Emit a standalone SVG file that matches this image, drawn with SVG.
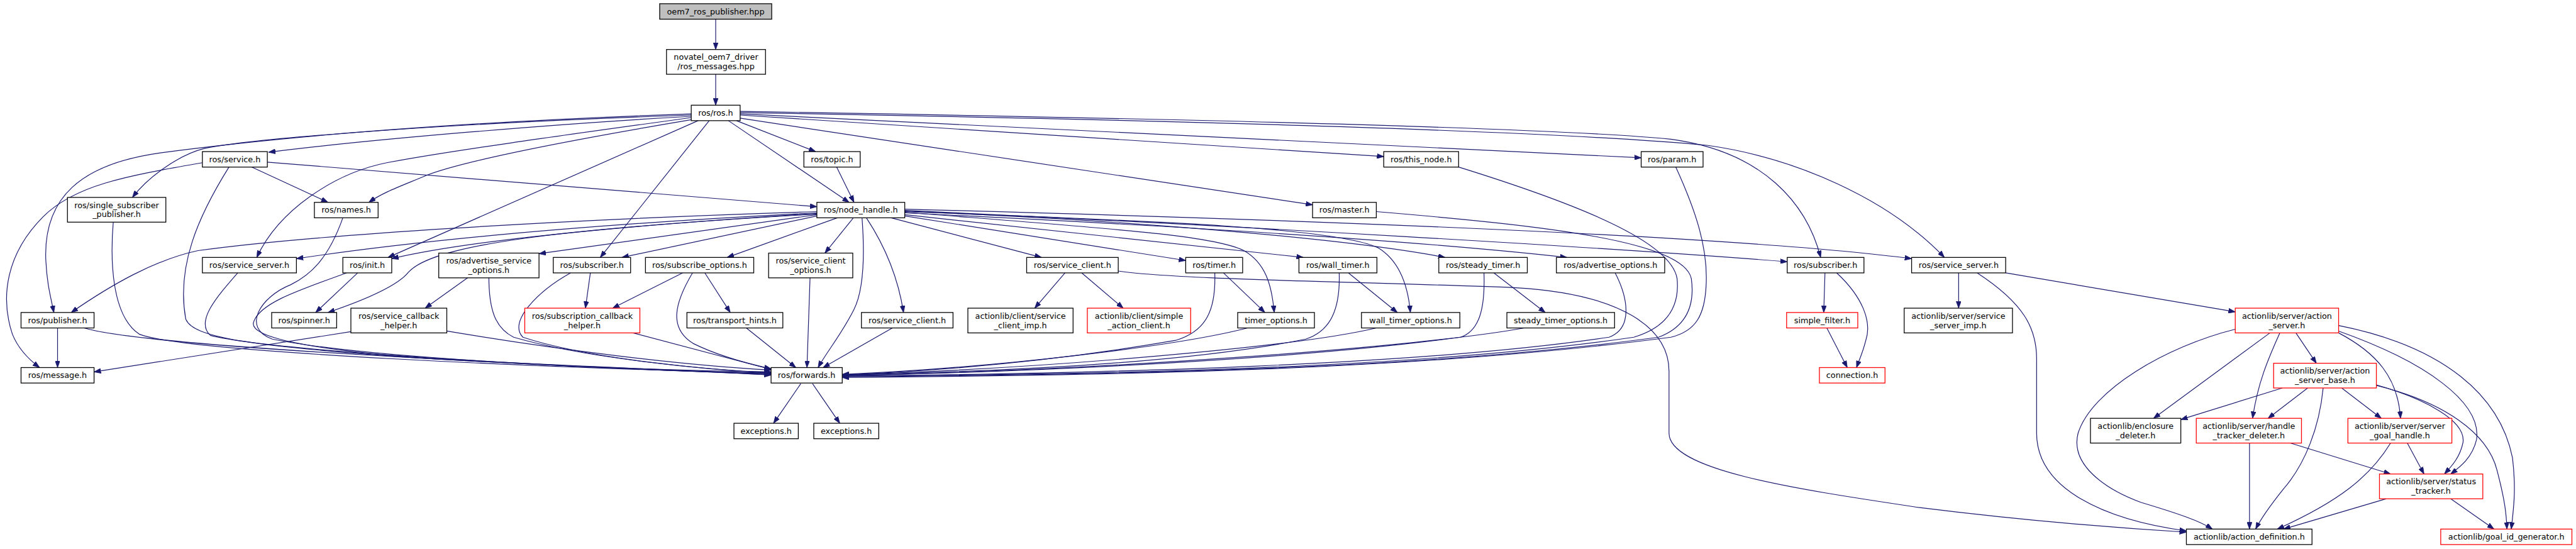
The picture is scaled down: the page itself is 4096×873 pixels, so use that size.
<svg xmlns="http://www.w3.org/2000/svg" width="4096" height="873" viewBox="0 0 4096 873">
<style>
.e{fill:none;stroke:#191970;stroke-width:1.2;marker-end:url(#ah)}
.n rect{fill:#fff;stroke:#000;stroke-width:1.3}
.n.r rect{stroke:#ff0000}
.n.g rect{fill:#bfbfbf}
.n text{font-family:"DejaVu Sans",sans-serif;font-size:13px;fill:#000;text-anchor:middle}
</style>
<defs>
<marker id="ah" viewBox="0 0 11 8" refX="11" refY="4" markerWidth="11" markerHeight="8" orient="auto" markerUnits="userSpaceOnUse">
<path d="M0,0 L11,4 L0,8 z" fill="#191970" stroke="#191970" stroke-width="0.8"/>
</marker>
</defs>
<rect width="4096" height="873" fill="#fff"/>
<g transform="scale(0.984)">
<g id="edges">
<path class="e" d="M1156.5,31 L1156.5,80"/>
<path class="e" d="M1156.5,120 L1156.5,170"/>
<path class="e" d="M1117,188 C900,200 600,225 434,246"/>
<path class="e" d="M1117,186 C700,200 400,225 330,240 C290,250 240,285 214,319"/>
<path class="e" d="M1117,184 C800,195 500,215 259,247 C130,265 70,320 74,420 C76,460 82,480 87,505"/>
<path class="e" d="M1117,190 C900,220 720,245 625,263 C540,280 450,340 415,416"/>
<path class="e" d="M1120,193 C900,230 750,260 690,283 C650,300 620,310 596,327"/>
<path class="e" d="M1128,195 L627,416"/>
<path class="e" d="M1146,195 L970,416"/>
<path class="e" d="M1177,195 L1372,327"/>
<path class="e" d="M1190,195 L1318,245"/>
<path class="e" d="M1352,270 L1380,327"/>
<path class="e" d="M1196,191 L2121,331"/>
<path class="e" d="M1196,186 L2236,253"/>
<path class="e" d="M1196,184 L2652,255"/>
<path class="e" d="M1196,180 C1800,190 2500,205 2700,225 C2850,245 2920,330 2942,416"/>
<path class="e" d="M1196,182 C1800,192 2500,210 2760,235 C2900,255 3050,320 3142,416"/>
<path class="e" d="M327,263 C200,285 120,300 70,350 C10,410 0,480 20,540 C30,565 48,582 64,594"/>
<path class="e" d="M370,270 C320,350 285,430 300,515 C310,545 400,560 700,580 C1000,597 1150,600 1246,606"/>
<path class="e" d="M407,270 L530,327"/>
<path class="e" d="M432,262 L1320,334"/>
<path class="e" d="M183,359 C178,420 180,510 225,540 C300,570 900,595 1246,603"/>
<path class="e" d="M554,352 C530,420 500,445 470,460 C420,480 390,530 440,548 C600,580 1000,598 1246,601"/>
<path class="e" d="M93,530 L93,594"/>
<path class="e" d="M136,530 C200,550 500,570 800,585 C1000,595 1150,600 1246,606"/>
<path class="e" d="M567,536 L152,601"/>
<path class="e" d="M722,535 C900,565 1100,590 1246,598"/>
<path class="e" d="M1320,342 C900,355 500,380 320,405 C250,420 180,460 115,505"/>
<path class="e" d="M1320,344 C1000,360 700,385 479,418"/>
<path class="e" d="M1320,345 C1000,365 750,390 633,418"/>
<path class="e" d="M1320,346 C900,370 700,395 660,440 C640,465 580,488 530,505"/>
<path class="e" d="M1320,347 L871,410"/>
<path class="e" d="M1320,349 L1005,416"/>
<path class="e" d="M1353,352 L1175,416"/>
<path class="e" d="M1379,352 L1333,409"/>
<path class="e" d="M1393,352 C1398,420 1395,470 1380,500 C1360,540 1335,570 1322,594"/>
<path class="e" d="M1400,352 C1425,390 1450,440 1460,505"/>
<path class="e" d="M1440,352 L1683,416"/>
<path class="e" d="M1462,349 L1916,421"/>
<path class="e" d="M1462,343 C1800,370 1960,380 2010,405 C2045,425 2055,460 2059,505"/>
<path class="e" d="M1462,347 L2106,416"/>
<path class="e" d="M1462,342 C1800,355 2150,365 2226,400 C2260,420 2275,460 2279,505"/>
<path class="e" d="M1462,341 C1900,360 2200,390 2335,416"/>
<path class="e" d="M1462,344 C1900,365 2300,390 2532,416"/>
<path class="e" d="M1462,340 C2000,365 2600,400 2888,423"/>
<path class="e" d="M1462,338 C2100,355 2800,380 3089,418"/>
<path class="e" d="M757,448 L687,498"/>
<path class="e" d="M790,448 C790,500 800,530 830,545 C950,580 1150,598 1246,602"/>
<path class="e" d="M954,441 L946,498"/>
<path class="e" d="M922,441 C870,470 820,520 845,545 C950,580 1150,598 1246,603"/>
<path class="e" d="M1103,441 L990,498"/>
<path class="e" d="M1119,441 C1090,490 1080,530 1120,555 C1160,575 1210,588 1246,596"/>
<path class="e" d="M1139,441 L1180,505"/>
<path class="e" d="M1023,538 L1246,597"/>
<path class="e" d="M1206,530 L1286,594"/>
<path class="e" d="M1309,448 L1304,594"/>
<path class="e" d="M1442,530 L1330,594"/>
<path class="e" d="M1721,441 L1672,498"/>
<path class="e" d="M1748,441 L1815,498"/>
<path class="e" d="M1807,438 C1900,452 2200,455 2450,465 C2620,475 2697,530 2697,600 L2697,700 C2697,760 2900,790 3100,820 C3300,845 3450,855 3533,860"/>
<path class="e" d="M1977,441 L2044,505"/>
<path class="e" d="M1963,441 C1965,500 1950,535 1900,550 C1700,585 1500,600 1361,606"/>
<path class="e" d="M2016,530 C1900,560 1600,595 1361,605"/>
<path class="e" d="M2179,441 L2258,505"/>
<path class="e" d="M2164,441 C2166,500 2150,535 2110,548 C1900,590 1600,600 1361,606"/>
<path class="e" d="M2224,530 C2100,560 1700,595 1361,606"/>
<path class="e" d="M2414,441 L2497,505"/>
<path class="e" d="M2398,441 C2400,500 2390,535 2360,545 C2100,580 1700,600 1361,607"/>
<path class="e" d="M2463,530 C2300,560 1800,598 1361,607"/>
<path class="e" d="M2610,441 C2630,480 2640,530 2600,545 C2300,590 1800,603 1361,608"/>
<path class="e" d="M2357,270 C2550,330 2700,390 2710,450 C2715,500 2690,530 2640,545 C2300,595 1800,605 1361,608"/>
<path class="e" d="M2224,342 C2500,365 2720,390 2733,450 C2740,500 2720,530 2680,545 C2300,597 1800,606 1361,609"/>
<path class="e" d="M2708,270 C2740,340 2760,400 2757,460 C2755,510 2740,535 2700,545 C2300,598 1800,607 1361,610"/>
<path class="e" d="M2949,441 L2947,505"/>
<path class="e" d="M2968,441 C3010,480 3025,520 3015,550 C3010,570 3005,580 3000,594"/>
<path class="e" d="M2952,530 L2985,594"/>
<path class="e" d="M3165,441 L3165,498"/>
<path class="e" d="M3195,441 C3270,490 3291,530 3291,580 L3291,700 C3291,790 3400,840 3533,858"/>
<path class="e" d="M3241,441 L3612,504"/>
<path class="e" d="M3668,538 L3480,676"/>
<path class="e" d="M3684,538 C3665,580 3648,620 3640,676"/>
<path class="e" d="M3710,538 L3743,587"/>
<path class="e" d="M3779,538 C3840,570 3875,610 3879,676"/>
<path class="e" d="M3779,535 C3920,585 4010,650 4002,710 C3995,740 3975,755 3960,766"/>
<path class="e" d="M3779,526 C3950,560 4040,640 4060,740 C4066,790 4062,820 4058,855"/>
<path class="e" d="M3612,532 C3500,560 3380,630 3358,700 C3345,750 3400,790 3460,812 C3520,830 3555,842 3575,855"/>
<path class="e" d="M3688,627 L3524,678"/>
<path class="e" d="M3729,627 L3665,676"/>
<path class="e" d="M3754,627 C3748,690 3725,750 3690,790 C3670,815 3655,835 3645,855"/>
<path class="e" d="M3784,627 L3848,676"/>
<path class="e" d="M3840,622 C3920,645 3985,680 3980,715 C3975,740 3960,755 3950,766"/>
<path class="e" d="M3840,623 C3950,650 4020,700 4035,760 C4048,810 4050,830 4051,855"/>
<path class="e" d="M3635,716 L3635,855"/>
<path class="e" d="M3701,716 L3863,766"/>
<path class="e" d="M3863,716 C3830,770 3780,810 3680,855"/>
<path class="e" d="M3890,716 L3917,766"/>
<path class="e" d="M3856,806 L3690,855"/>
<path class="e" d="M3960,806 L4030,855"/>
<path class="e" d="M1294,620 L1250,684"/>
<path class="e" d="M1313,620 L1357,684"/>
<path class="e" d="M578,441 L510,505"/>
<path class="e" d="M560,441 C480,470 420,490 410,520 C400,545 500,565 700,580 C1000,597 1150,601 1246,604"/>
<path class="e" d="M384,441 C350,480 315,520 340,542 C450,570 1000,598 1246,604"/>
</g>
<g id="n_oem7" class="n g"><rect x="1066" y="6" width="181" height="25"/><text x="1156.5" y="23">oem7_ros_publisher.hpp</text></g>
<g id="n_rosmsgs" class="n"><rect x="1077" y="80" width="160" height="40"/><text x="1157" y="97">novatel_oem7_driver</text><text x="1157" y="112">/ros_messages.hpp</text></g>
<g id="n_ros" class="n"><rect x="1117" y="170" width="79" height="25"/><text x="1156.5" y="187">ros/ros.h</text></g>
<g id="n_service" class="n"><rect x="327" y="245" width="105" height="25"/><text x="379.5" y="262">ros/service.h</text></g>
<g id="n_ssp" class="n"><rect x="109" y="319" width="159" height="40"/><text x="188.5" y="336">ros/single_subscriber</text><text x="188.5" y="351">_publisher.h</text></g>
<g id="n_names" class="n"><rect x="508" y="327" width="103" height="25"/><text x="559.5" y="344">ros/names.h</text></g>
<g id="n_topic" class="n"><rect x="1299" y="245" width="91" height="25"/><text x="1344.5" y="262">ros/topic.h</text></g>
<g id="n_nh" class="n"><rect x="1320" y="327" width="142" height="25"/><text x="1391" y="344">ros/node_handle.h</text></g>
<g id="n_thisnode" class="n"><rect x="2236" y="245" width="121" height="25"/><text x="2296.5" y="262">ros/this_node.h</text></g>
<g id="n_param" class="n"><rect x="2652" y="245" width="100" height="25"/><text x="2702" y="262">ros/param.h</text></g>
<g id="n_master" class="n"><rect x="2121" y="327" width="103" height="25"/><text x="2172.5" y="344">ros/master.h</text></g>
<g id="n_ssrvL" class="n"><rect x="327" y="416" width="152" height="25"/><text x="403" y="433">ros/service_server.h</text></g>
<g id="n_init" class="n"><rect x="554" y="416" width="79" height="25"/><text x="593.5" y="433">ros/init.h</text></g>
<g id="n_aso" class="n"><rect x="709" y="409" width="162" height="40"/><text x="790" y="426">ros/advertise_service</text><text x="790" y="441">_options.h</text></g>
<g id="n_subL" class="n"><rect x="894" y="416" width="125" height="25"/><text x="956.5" y="433">ros/subscriber.h</text></g>
<g id="n_subopt" class="n"><rect x="1043" y="416" width="175" height="25"/><text x="1130.5" y="433">ros/subscribe_options.h</text></g>
<g id="n_sco" class="n"><rect x="1242" y="409" width="136" height="40"/><text x="1310" y="426">ros/service_client</text><text x="1310" y="441">_options.h</text></g>
<g id="n_scU" class="n"><rect x="1659" y="416" width="148" height="25"/><text x="1733" y="433">ros/service_client.h</text></g>
<g id="n_timer" class="n"><rect x="1916" y="416" width="92" height="25"/><text x="1962" y="433">ros/timer.h</text></g>
<g id="n_wtimer" class="n"><rect x="2099" y="416" width="126" height="25"/><text x="2162" y="433">ros/wall_timer.h</text></g>
<g id="n_stimer" class="n"><rect x="2325" y="416" width="143" height="25"/><text x="2396.5" y="433">ros/steady_timer.h</text></g>
<g id="n_advopt" class="n"><rect x="2515" y="416" width="175" height="25"/><text x="2602.5" y="433">ros/advertise_options.h</text></g>
<g id="n_subR" class="n"><rect x="2888" y="416" width="124" height="25"/><text x="2950" y="433">ros/subscriber.h</text></g>
<g id="n_ssrvR" class="n"><rect x="3089" y="416" width="152" height="25"/><text x="3165" y="433">ros/service_server.h</text></g>
<g id="n_pub" class="n"><rect x="34" y="505" width="118" height="25"/><text x="93" y="522">ros/publisher.h</text></g>
<g id="n_msg" class="n"><rect x="34" y="594" width="118" height="25"/><text x="93" y="611">ros/message.h</text></g>
<g id="n_spinner" class="n"><rect x="439" y="505" width="105" height="25"/><text x="491.5" y="522">ros/spinner.h</text></g>
<g id="n_sch" class="n"><rect x="567" y="498" width="155" height="40"/><text x="644.5" y="515">ros/service_callback</text><text x="644.5" y="530">_helper.h</text></g>
<g id="n_subcb" class="n r"><rect x="848" y="498" width="186" height="40"/><text x="941" y="515">ros/subscription_callback</text><text x="941" y="530">_helper.h</text></g>
<g id="n_th" class="n"><rect x="1110" y="505" width="155" height="25"/><text x="1187.5" y="522">ros/transport_hints.h</text></g>
<g id="n_fwd" class="n"><rect x="1246" y="594" width="115" height="25"/><text x="1303.5" y="611">ros/forwards.h</text></g>
<g id="n_exc1" class="n"><rect x="1186" y="684" width="104" height="25"/><text x="1238" y="701">exceptions.h</text></g>
<g id="n_exc2" class="n"><rect x="1315" y="684" width="105" height="25"/><text x="1367.5" y="701">exceptions.h</text></g>
<g id="n_scL" class="n"><rect x="1392" y="505" width="148" height="25"/><text x="1466" y="522">ros/service_client.h</text></g>
<g id="n_scimp" class="n"><rect x="1564" y="498" width="170" height="40"/><text x="1649" y="515">actionlib/client/service</text><text x="1649" y="530">_client_imp.h</text></g>
<g id="n_sac" class="n r"><rect x="1757" y="498" width="167" height="40"/><text x="1840.5" y="515">actionlib/client/simple</text><text x="1840.5" y="530">_action_client.h</text></g>
<g id="n_topt" class="n"><rect x="2000" y="505" width="124" height="25"/><text x="2062" y="522">timer_options.h</text></g>
<g id="n_wtopt" class="n"><rect x="2200" y="505" width="159" height="25"/><text x="2279.5" y="522">wall_timer_options.h</text></g>
<g id="n_stopt" class="n"><rect x="2435" y="505" width="174" height="25"/><text x="2522" y="522">steady_timer_options.h</text></g>
<g id="n_sf" class="n r"><rect x="2887" y="505" width="115" height="25"/><text x="2944.5" y="522">simple_filter.h</text></g>
<g id="n_conn" class="n r"><rect x="2940" y="594" width="106" height="25"/><text x="2993" y="611">connection.h</text></g>
<g id="n_ssimp" class="n"><rect x="3077" y="498" width="175" height="40"/><text x="3164.5" y="515">actionlib/server/service</text><text x="3164.5" y="530">_server_imp.h</text></g>
<g id="n_encl" class="n"><rect x="3378" y="676" width="146" height="40"/><text x="3451" y="693">actionlib/enclosure</text><text x="3451" y="708">_deleter.h</text></g>
<g id="n_as" class="n r"><rect x="3612" y="498" width="167" height="40"/><text x="3695.5" y="515">actionlib/server/action</text><text x="3695.5" y="530">_server.h</text></g>
<g id="n_asb" class="n r"><rect x="3674" y="587" width="166" height="40"/><text x="3757" y="604">actionlib/server/action</text><text x="3757" y="619">_server_base.h</text></g>
<g id="n_htd" class="n r"><rect x="3549" y="676" width="170" height="40"/><text x="3634" y="693">actionlib/server/handle</text><text x="3634" y="708">_tracker_deleter.h</text></g>
<g id="n_sgh" class="n r"><rect x="3794" y="676" width="168" height="40"/><text x="3878" y="693">actionlib/server/server</text><text x="3878" y="708">_goal_handle.h</text></g>
<g id="n_st" class="n r"><rect x="3845" y="766" width="167" height="40"/><text x="3928.5" y="783">actionlib/server/status</text><text x="3928.5" y="798">_tracker.h</text></g>
<g id="n_ad" class="n"><rect x="3533" y="855" width="203" height="25"/><text x="3634.5" y="872">actionlib/action_definition.h</text></g>
<g id="n_gid" class="n r"><rect x="3944" y="855" width="212" height="25"/><text x="4050" y="872">actionlib/goal_id_generator.h</text></g>
</g>
</svg>
